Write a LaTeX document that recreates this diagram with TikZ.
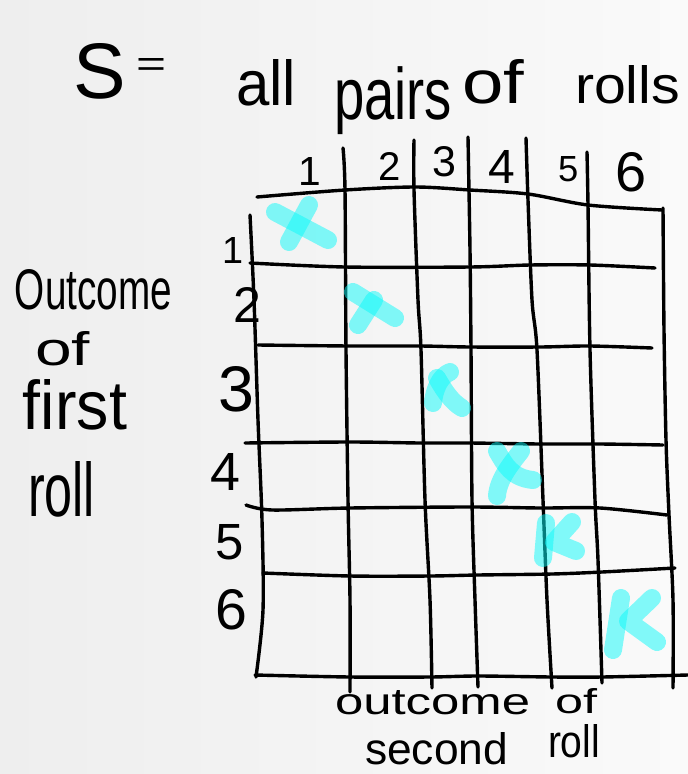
\documentclass[tikz,border=0pt]{standalone}
\usepackage{fontspec}
\setmainfont{Liberation Sans}
\usepackage{graphicx}
\newcommand{\hw}[3]{\resizebox{#1pt}{#2pt}{#3}}
\newcommand{\hh}[2]{\resizebox{!}{#1pt}{#2}}
\definecolor{marker}{RGB}{10,250,250}
\definecolor{bgL}{RGB}{238,238,238}
\definecolor{bgR}{RGB}{250,250,250}
\begin{document}
\begin{tikzpicture}[x=1pt,y=-1pt,
  gridline/.style={line width=3.4pt,line cap=round,line join=round,black},
  xstroke/.style={line width=18pt,line cap=round,line join=round,draw=marker,draw opacity=0.5},
  txt/.style={inner sep=0pt,outer sep=0pt,anchor=south west}]
\useasboundingbox (0,0) rectangle (688,774);
\fill[left color=bgL,right color=bgR] (0,0) rectangle (688,774);

% title
\node[txt] (tS) at (73,99) {\hh{55}{S}};
\node[txt] (teq) at (136,76) {\hw{30}{18}{=}};
\node[txt] (tall) at (236,106) {\hw{60}{46}{all}};
\node[txt] (tpairs) at (334,135) {\resizebox*{118pt}{68pt}{pairs}};
\node[txt] (tof) at (462,104) {\hw{62}{44}{of}};
\node[txt] (trolls) at (575,104) {\hw{105}{38}{rolls}};

% grid
\draw[gridline] plot[smooth] coordinates {(257,197) (345,190) (415,187) (470,190) (528,194) (588,205) (662,210)};
\draw[gridline] plot[smooth] coordinates {(250,263) (345,267) (470,267) (530,265) (590,265) (655,268)};
\draw[gridline] plot[smooth] coordinates {(258,345) (350,346) (420,346) (470,347) (540,347) (590,346) (652,348)};
\draw[gridline] plot[smooth] coordinates {(245,443) (350,442) (420,443) (470,443) (540,444) (600,444) (663,445)};
\draw[gridline] plot[smooth] coordinates {(246,505) (272,510) (350,508) (470,507) (540,508) (600,508) (667,515)};
\draw[gridline] plot[smooth] coordinates {(263,573) (350,576) (430,576) (478,575) (552,574) (602,572) (675,568)};
\draw[gridline] plot[smooth] coordinates {(255,675) (350,677) (430,677) (478,676) (552,677) (602,677) (688,675)};

\draw[gridline] plot[smooth] coordinates {(250,215) (254,300) (258,420) (262,520) (263,610) (256,677)};
\draw[gridline] plot[smooth] coordinates {(343,148) (345,190) (346,350) (348,500) (350,600) (350,692)};
\draw[gridline] plot[smooth] coordinates {(414,140) (414,190) (418,300) (421,350) (425,500) (430,600) (432,688)};
\draw[gridline] plot[smooth] coordinates {(468,137) (470,250) (471,350) (472,500) (475,600) (478,687)};
\draw[gridline] plot[smooth] coordinates {(526,138) (528,200) (532,300) (537,350) (543,500) (547,600) (552,688)};
\draw[gridline] plot[smooth] coordinates {(587,152) (588,205) (590,350) (595,500) (598,560) (602,683)};
\draw[gridline] plot[smooth] coordinates {(663,208) (664,330) (666,440) (669,515) (673,600) (673,688)};

% column numbers
\node[txt] (c1) at (298,185) {\hh{28}{1}};
\node[txt] (c2) at (378,180) {\hh{28}{2}};
\node[txt] (c3) at (432,177) {\hh{30}{3}};
\node[txt] (c4) at (488,183) {\hh{33}{4}};
\node[txt] (c5) at (558,182) {\hh{25}{5}};
\node[txt] (c6) at (615,192) {\hh{39}{6}};

% row numbers
\node[txt] (r1) at (222,263) {\hh{26}{1}};
\node[txt] (r2) at (233,322) {\hh{35}{2}};
\node[txt] (r3) at (218,412) {\hh{45}{3}};
\node[txt] (r4) at (210,490) {\hh{37}{4}};
\node[txt] (r5) at (215,560) {\hh{35}{5}};
\node[txt] (r6) at (215,630) {\hh{40}{6}};

% left label
\node[txt] (l1) at (15,310) {\hw{157}{40}{Outcome}};
\node[txt] (l2) at (35,366) {\hw{55}{34}{of}};
\node[txt] (l3) at (23,430) {\hw{104}{50}{first}};
\node[txt] (l4) at (28,517) {\hw{67}{55}{roll}};

% bottom label
\node[txt] (b1) at (335,715) {\hw{195}{24}{outcome}};
\node[txt] (b2) at (555,714) {\hw{42}{25}{of}};
\node[txt] (b3) at (365,765) {\hw{143}{32}{second}};
\node[txt] (b4) at (548,758) {\hw{52}{33}{roll}};

% marks
\draw[xstroke] (275,212) -- (328,240);
\draw[xstroke] (309,205) -- (289,242);
\draw[xstroke] (353,292) -- (395,318);
\draw[xstroke] (374,300) -- (358,325);
\draw[xstroke] (450,372) .. controls (440,376) and (434,390) .. (433,403);
\draw[xstroke] (437,378) .. controls (445,392) and (452,402) .. (462,408);
\draw[xstroke] (497,451) .. controls (505,465) and (512,478) .. (533,480);
\draw[xstroke] (521,451) .. controls (510,465) and (498,480) .. (497,496);
\draw[xstroke] (546,523) -- (543,558);
\draw[xstroke] (572,522) -- (554,542) -- (576,551);
\draw[xstroke] (621,598) -- (613,650);
\draw[xstroke] (652,598) -- (628,621) -- (657,642);
\end{tikzpicture}
\end{document}
